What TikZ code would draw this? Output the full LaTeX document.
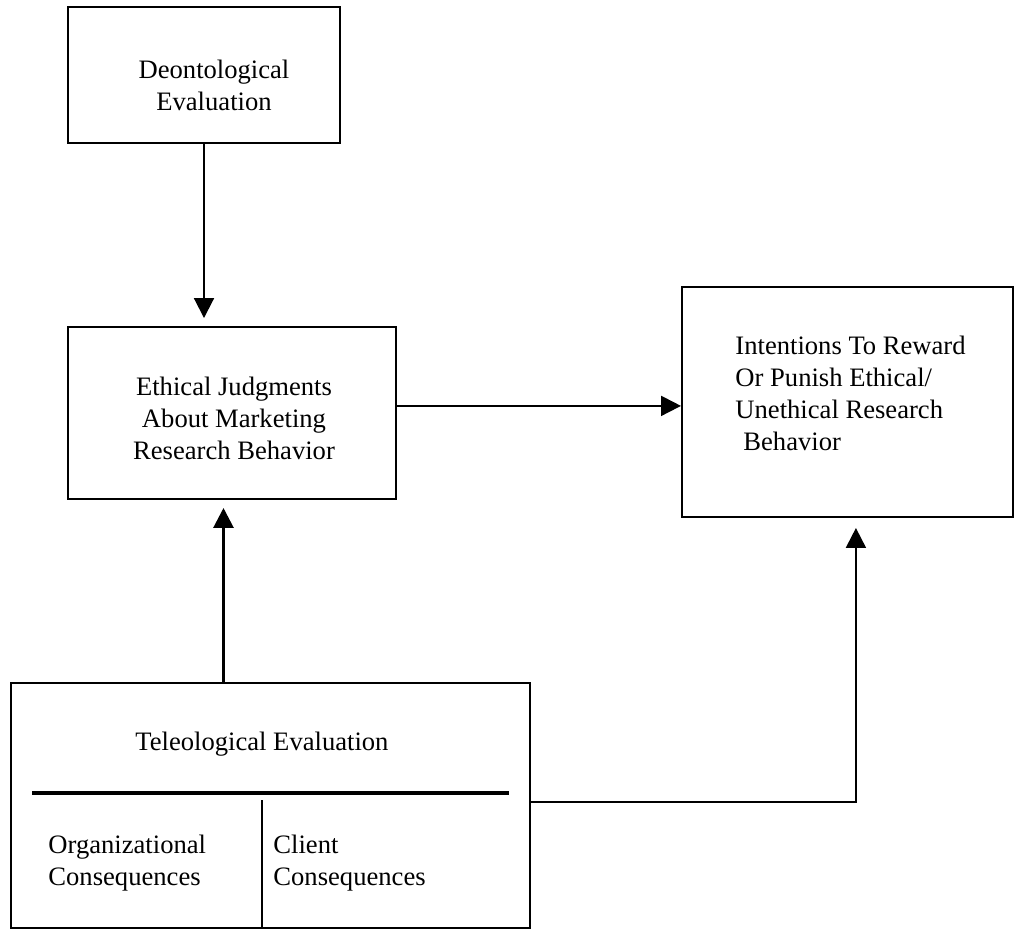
\documentclass[tikz,border=0pt]{standalone}
\usepackage{fontspec}
\setmainfont{Liberation Serif}
\usetikzlibrary{arrows.meta}

\begin{document}
\begin{tikzpicture}[x=0.451pt, y=-0.451pt, >={Triangle[length=9pt,width=9pt]},
    box/.style={draw, line width=0.9pt, inner sep=0pt},
    lbl/.style={inner sep=0pt, font=\fontsize{12}{14.4}\selectfont},
    link/.style={->, line width=0.9pt}]
    \useasboundingbox (0,0) rectangle (1017,930);

    % Deontological box
    \node[box, minimum width=122.67pt, minimum height=61.34pt] (deon) at (204,75) {};
    \node[lbl, align=center, anchor=base] (deontxt) at (214,110) {Deontological\\Evaluation};

    % Ethical judgments box
    \node[box, minimum width=147.93pt, minimum height=77.57pt] (ethic) at (232,413) {};
    \node[lbl, align=center, anchor=base] (ethictxt) at (234,459) {Ethical Judgments\\About Marketing\\Research Behavior};

    % Intentions box
    \node[box, minimum width=149.28pt, minimum height=103.73pt] (intent) at (847.5,402) {};
    \node[lbl, align=left, anchor=base west] (intenttxt) at (735,450) {Intentions To Reward\\Or Punish Ethical/\\Unethical Research\\\hspace*{3.6pt}Behavior};

    % Teleological box, split in two parts
    \node[box, minimum width=234.07pt, minimum height=110.5pt] (teleo) at (270.5,805.5) {};
    \node[lbl, anchor=base west] (teleotxt) at (135,750) {Teleological Evaluation};
    \draw[line width=1.6pt] (32,793) -- (509,793);
    \draw[line width=0.9pt] (262,800) -- (262,800 |- teleo.south);
    \node[lbl, align=left, anchor=base west] (orgtxt) at (48,885) {Organizational\\Consequences};
    \node[lbl, align=left, anchor=base west] (clienttxt) at (273,885) {Client\\Consequences};

    % Arrows
    \draw[link, shorten >=3.6pt] (deon.south) -- (deon.south |- ethic.north);
    \draw[link] ([yshift=3.2pt]ethic.east) coordinate (ej) -- (ej -| intent.west);
    \draw[link, line width=1.3pt, shorten >=3.6pt] ([xshift=-21.2pt]teleo.north) -- ([xshift=-21.2pt]teleo.north |- ethic.south);
    \draw[link, shorten >=4.5pt] ([yshift=1.6pt]teleo.east) -| ([xshift=3.8pt]intent.south);
\end{tikzpicture}
\end{document}
